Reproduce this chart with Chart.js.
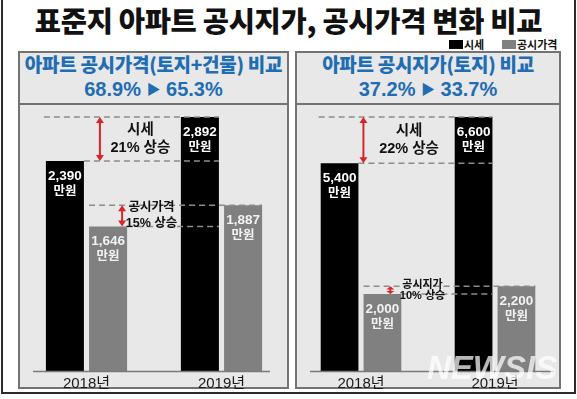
<!DOCTYPE html>
<html><head><meta charset="utf-8">
<script src="https://cdn.jsdelivr.net/npm/chart.js@4"></script>
<style>
html,body{margin:0;padding:0;background:#fff;}
#wrap{position:relative;width:577px;height:399px;overflow:hidden;font-family:'Noto Sans CJK KR',sans-serif;}
#frame{position:absolute;left:1px;top:-3px;width:575px;height:397px;box-sizing:border-box;border:2px solid #2a2a2a;}
#title{position:absolute;left:0;top:2px;width:577px;text-align:center;font-size:28.5px;font-weight:900;line-height:36px;color:#111;letter-spacing:-0.3px;white-space:nowrap;}
.lg{position:absolute;font-size:11px;font-weight:700;line-height:12px;color:#111;white-space:nowrap;}
.sw{position:absolute;width:14px;height:9px;}
.panel{position:absolute;top:51px;height:338px;box-sizing:border-box;border:2px solid #737373;background:#e8e8e8;}
.headline{position:absolute;top:103px;height:2px;background:#737373;}
.h1{position:absolute;text-align:center;color:#1f6db3;font-size:19px;font-weight:900;line-height:22px;top:53px;white-space:nowrap;letter-spacing:-0.3px;}
.h2{position:absolute;text-align:center;color:#1f6db3;font-family:'Liberation Sans','Noto Sans CJK KR',sans-serif;font-size:20px;font-weight:700;line-height:22px;top:78px;white-space:nowrap;}
.tri{font-size:14px;position:relative;top:-2px;}
canvas{position:absolute;}
#wm{position:absolute;left:427px;top:351px;font-family:'Liberation Sans',sans-serif;font-style:italic;font-weight:700;font-size:33px;line-height:33px;color:rgba(255,255,255,0.72);letter-spacing:0px;z-index:5;}
</style></head>
<body>
<div id="wrap">
  <div id="frame"></div>
  <div id="title"></div>
  <div id="legend"></div>
  <div class="panel" style="left:18px;width:271px;"></div>
  <div class="panel" style="left:295px;width:266px;"></div>
  <div class="headline" style="left:18px;width:271px;"></div>
  <div class="headline" style="left:295px;width:266px;"></div>
  <div class="h1" id="lh1" style="left:18px;width:271px;"></div>
  <div class="h2" id="lh2" style="left:18px;width:271px;"></div>
  <div class="h1" id="rh1" style="left:295px;width:266px;"></div>
  <div class="h2" id="rh2" style="left:295px;width:266px;"></div>
  <canvas id="c1" width="270" height="290" style="left:19px;top:103px;"></canvas>
  <canvas id="c2" width="268" height="290" style="left:294px;top:103px;"></canvas>
  <div id="wm">NEWSIS</div>
</div>
<script>
// ---- data ----
const titleText = '표준지 아파트 공시지가, 공시가격 변화 비교';
const years = ['2018년', '2019년'];
const seriesNames = ['시세', '공시가격'];
const seriesColors = ['#000000', '#808080'];

const leftHeader = '아파트 공시가격(토지+건물) 비교';
const leftRatios = ['68.9%', '65.3%'];
const leftMarket = [2390, 2892];
const leftOfficial = [1646, 1887];
const leftRiseNames = ['시세', '공시가격'];
const leftRiseLabels = ['21% 상승', '15% 상승'];

const rightHeader = '아파트 공시지가(토지) 비교';
const rightRatios = ['37.2%', '33.7%'];
const rightMarket = [5400, 6600];
const rightOfficial = [2000, 2200];
const rightRiseNames = ['시세', '공시지가'];
const rightRiseLabels = ['22% 상승', '10% 상승'];
const unitText = '만원';

// ---- static text ----
document.getElementById('title').textContent = titleText;
document.getElementById('lh1').textContent = leftHeader;
document.getElementById('rh1').textContent = rightHeader;
document.getElementById('lh2').innerHTML = leftRatios[0] + ' <span class="tri">▶</span> ' + leftRatios[1];
document.getElementById('rh2').innerHTML = rightRatios[0] + ' <span class="tri">▶</span> ' + rightRatios[1];
const lg = document.getElementById('legend');
const lgPos = [449, 502];
seriesNames.forEach((n, i) => {
  const s = document.createElement('div'); s.className = 'sw';
  s.style.left = lgPos[i] + 'px'; s.style.top = '40px'; s.style.background = seriesColors[i];
  const t = document.createElement('div'); t.className = 'lg';
  t.style.left = (lgPos[i] + 15) + 'px'; t.style.top = '38px'; t.textContent = n;
  lg.appendChild(s); lg.appendChild(t);
});

// ---- annotation plugin ----
const annot = {
  id: 'annot',
  afterDatasetsDraw(chart, args, o) {
    const ctx = chart.ctx, ca = chart.chartArea;
    const m0 = chart.getDatasetMeta(0).data, m1 = chart.getDatasetMeta(1).data;
    const L = b => b.x - b.width / 2, R = b => b.x + b.width / 2;
    ctx.save();
    // baseline
    ctx.strokeStyle = '#7a7a7a'; ctx.lineWidth = 1.5;
    ctx.beginPath(); ctx.moveTo(ca.left + o.baseL, ca.bottom + 0.5); ctx.lineTo(ca.right - o.baseR, ca.bottom + 0.5); ctx.stroke();
    // dashed guide lines
    ctx.setLineDash([6, 4]); ctx.strokeStyle = '#8c8c8c'; ctx.lineWidth = 1.5;
    const dash = (x1, x2, yy) => { ctx.beginPath(); ctx.moveTo(x1, yy); ctx.lineTo(x2, yy); ctx.stroke(); };
    dash(L(m0[0]) - 2, R(m0[1]), m0[1].y);
    dash(R(m0[0]), R(m0[1]), m0[0].y);
    dash(L(m1[0]), R(m1[1]), m1[1].y);
    dash(R(m1[0]), R(m0[1]), m1[0].y);
    ctx.setLineDash([]);
    // arrows
    const arrow = (x, y1, y2) => {
      const h = Math.min(6, (y2 - y1) / 2.5), w = 4;
      ctx.strokeStyle = '#d7262b'; ctx.fillStyle = '#d7262b'; ctx.lineWidth = 2;
      ctx.beginPath(); ctx.moveTo(x, y1 + h - 1); ctx.lineTo(x, y2 - h + 1); ctx.stroke();
      ctx.beginPath(); ctx.moveTo(x, y1); ctx.lineTo(x - w, y1 + h); ctx.lineTo(x + w, y1 + h); ctx.closePath(); ctx.fill();
      ctx.beginPath(); ctx.moveTo(x, y2); ctx.lineTo(x - w, y2 - h); ctx.lineTo(x + w, y2 - h); ctx.closePath(); ctx.fill();
    };
    const ax1 = R(m0[0]) + o.arrow1, ax2 = R(m1[0]) + o.arrow2;
    arrow(ax1, m0[1].y, m0[0].y);
    arrow(ax2, m1[1].y, m1[0].y);
    // rise texts
    ctx.fillStyle = '#111'; ctx.textAlign = 'center'; ctx.textBaseline = 'middle';
    const txt = (x, yc, lines, size, gap) => {
      ctx.font = 'bold ' + size + 'px "Liberation Sans","Noto Sans CJK KR",sans-serif';
      ctx.fillText(lines[0], x, yc - gap / 2);
      ctx.fillText(lines[1], x, yc + gap / 2);
    };
    txt((ax1 + L(m0[1])) / 2, (m0[1].y + m0[0].y) / 2, [o.names[0], o.rises[0]], 14.5, 18);
    txt((ax2 + L(m0[1])) / 2, (m1[1].y + m1[0].y) / 2, [o.names[1], o.rises[1]], o.smallSize, o.smallGap);
    // value labels inside bars
    [m0, m1].forEach((meta, di) => {
      ctx.fillStyle = di === 0 ? '#ffffff' : '#f2f2f2';
      meta.forEach((b, i) => {
        const v = chart.data.datasets[di].data[i];
        ctx.font = 'bold 13.5px "Liberation Sans","Noto Sans CJK KR",sans-serif';
        ctx.fillText(v.toLocaleString('en-US'), b.x, b.y + 15);
        ctx.font = 'bold 12.5px "Noto Sans CJK KR",sans-serif';
        ctx.fillText(unitText, b.x, b.y + 29);
      });
    });
    ctx.restore();
  }
};

function makeChart(id, market, official, names, rises, opt) {
  const maxV = Math.max(...market, ...official);
  return new Chart(document.getElementById(id), {
    type: 'bar',
    data: {
      labels: years,
      datasets: [
        { label: seriesNames[0], data: market, backgroundColor: seriesColors[0], categoryPercentage: 0.64, barPercentage: 0.88 },
        { label: seriesNames[1], data: official, backgroundColor: seriesColors[1], categoryPercentage: 0.64, barPercentage: 0.88 }
      ]
    },
    options: {
      responsive: false, animation: false, devicePixelRatio: 1,
      layout: { padding: 0 },
      plugins: {
        legend: { display: false }, tooltip: { enabled: false },
        annot: Object.assign({ names: names, rises: rises }, opt)
      },
      scales: {
        x: {
          grid: { display: false, drawTicks: false }, border: { display: false },
          ticks: { padding: 4, color: '#1a1a1a', font: { family: '"Liberation Sans","Noto Sans CJK KR",sans-serif', size: 15 } },
          afterFit: s => { s.height = 22; }
        },
        y: { display: false, min: 0, max: maxV * 268 / 254 }
      }
    },
    plugins: [annot]
  });
}

makeChart('c1', leftMarket, leftOfficial, leftRiseNames, leftRiseLabels,
  { baseL: 14, baseR: 19, arrow1: 16, arrow2: -5, smallSize: 12.5, smallGap: 16 });
makeChart('c2', rightMarket, rightOfficial, rightRiseNames, rightRiseLabels,
  { baseL: 16, baseR: 8, arrow1: 5, arrow2: -11, smallSize: 11, smallGap: 11 });
</script>
</body></html>
